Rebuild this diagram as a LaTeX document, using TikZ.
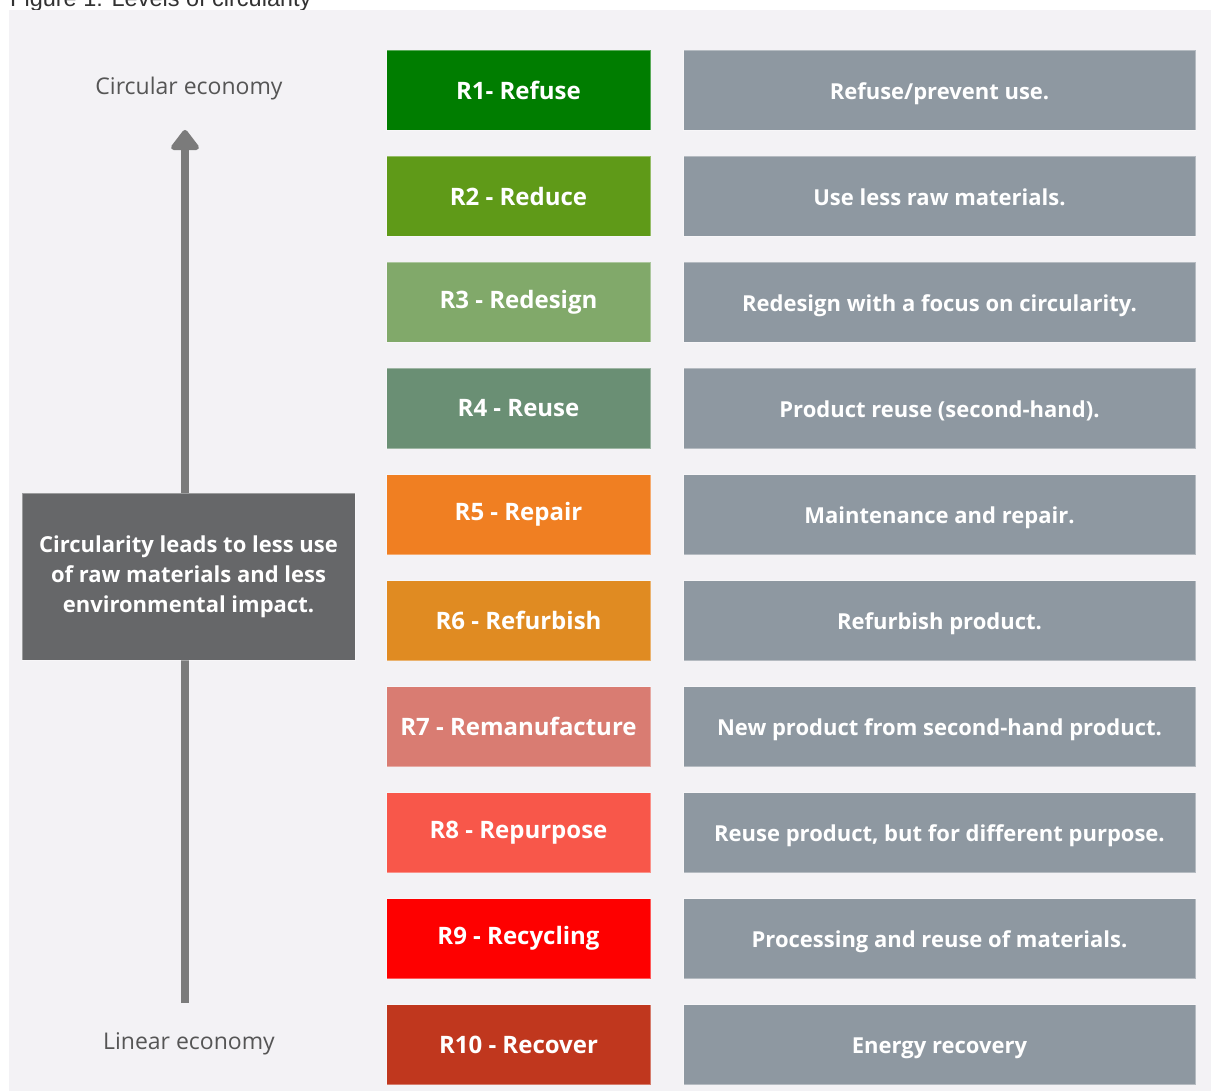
\documentclass[tikz,border=0pt]{standalone}
\usepackage{fontspec}
\setmainfont{Open Sans}
\newfontfamily\capfont{Liberation Sans}
\usetikzlibrary{arrows.meta}
\definecolor{panel}{HTML}{F3F2F5}
\definecolor{descgray}{HTML}{8E98A1}
\definecolor{darkgray}{HTML}{666769}
\definecolor{arrowgray}{HTML}{7B7B7B}
\definecolor{labgray}{HTML}{555555}
\definecolor{rA}{HTML}{007D00}
\definecolor{rB}{HTML}{5F9A18}
\definecolor{rC}{HTML}{81A96A}
\definecolor{rD}{HTML}{6A8F74}
\definecolor{rE}{HTML}{F07F22}
\definecolor{rF}{HTML}{E08B22}
\definecolor{rG}{HTML}{D97C72}
\definecolor{rH}{HTML}{F8574A}
\definecolor{rI}{HTML}{FE0000}
\definecolor{rJ}{HTML}{C0371E}
\begin{document}
\begin{tikzpicture}[x=1pt,y=-1pt,
  rbox/.style={anchor=north west, minimum width=264pt, minimum height=80pt, inner sep=0pt,
    draw=white, draw opacity=0.35, line width=1pt, text=white,
    font=\bfseries\fontsize{24}{28}\selectfont},
  dbox/.style={anchor=north west, fill=descgray, minimum width=512pt, minimum height=80pt, inner sep=0pt,
    draw=white, draw opacity=0.35, line width=1pt, text=white, text height=20pt, text depth=2pt,
    font=\bfseries\fontsize{22}{26}\selectfont},
  endlab/.style={text=labgray, font=\fontsize{23}{27}\selectfont, inner sep=0pt}]
\useasboundingbox (0,0) rectangle (1211,1091);
\begin{scope}
\clip (0,0) rectangle (1211,1091);
\node[anchor=base west, inner sep=0pt, text=black!80, font=\capfont\fontsize{23.5}{28}\selectfont] (cap) at (10,7) {Figure 1: Levels of circularity};
\end{scope}
\fill[panel] (9,10) rectangle (1211,1091);

% left column
\node[endlab] (circ) at (189,89) {Circular economy};
\node[endlab] (lin) at (189,1044) {Linear economy};
\coordinate (abot) at (185,1003);
\coordinate (atop) at (185,130);
\draw[arrowgray, line width=8pt, -{Triangle[width=32pt,length=22pt,round]}] (abot) -- (atop);
\node[fill=darkgray, draw=white, draw opacity=0.35, line width=1pt, minimum width=333pt, minimum height=167pt, inner sep=0pt,
  text=white, align=center, font=\bfseries\fontsize{22}{30}\selectfont] (imp) at (188.5,576.5)
  {Circularity leads to less use\\of raw materials and less\\environmental impact.};

% R boxes
\node[rbox, fill=rA] (r1) at (386,50) {R1- Refuse};
\node[rbox, fill=rB] (r2) at (386,156) {R2 - Reduce};
\node[rbox, fill=rC] (r3) at (386,262) {R3 - Redesign};
\node[rbox, fill=rD] (r4) at (386,368) {R4 - Reuse};
\node[rbox, fill=rE] (r5) at (386,474) {R5 - Repair};
\node[rbox, fill=rF] (r6) at (386,580) {R6 - Refurbish};
\node[rbox, fill=rG] (r7) at (386,686) {R7 - Remanufacture};
\node[rbox, fill=rH] (r8) at (386,792) {R8 - Repurpose};
\node[rbox, fill=rI] (r9) at (386,898) {R9 - Recycling};
\node[rbox, fill=rJ] (r10) at (386,1004) {R10 - Recover};

% descriptions
\node[dbox] (d1) at (683,50) {Refuse/prevent use.};
\node[dbox] (d2) at (683,156) {Use less raw materials.};
\node[dbox] (d3) at (683,262) {Redesign with a focus on circularity.};
\node[dbox] (d4) at (683,368) {Product reuse (second-hand).};
\node[dbox] (d5) at (683,474) {Maintenance and repair.};
\node[dbox] (d6) at (683,580) {Refurbish product.};
\node[dbox] (d7) at (683,686) {New product from second-hand product.};
\node[dbox] (d8) at (683,792) {Reuse product, but for different purpose.};
\node[dbox] (d9) at (683,898) {Processing and reuse of materials.};
\node[dbox] (d10) at (683,1004) {Energy recovery};
\end{tikzpicture}
\end{document}
